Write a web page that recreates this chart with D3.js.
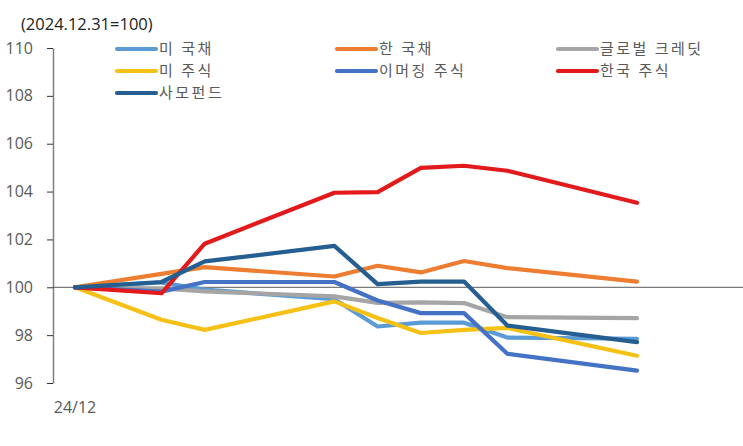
<!DOCTYPE html>
<html>
<head>
<meta charset="utf-8">
<script src="https://cdn.jsdelivr.net/npm/d3@7"></script>
<style>
  html, body { margin: 0; padding: 0; background: #fff; }
  svg { display: block; font-family: "Noto Sans CJK KR", "Noto Sans", sans-serif; }
</style>
</head>
<body>
<svg id="chart" width="743" height="446"></svg>
<script>
// ---- data ----
const weeks = [0, 2, 3, 6, 7, 8, 9, 10, 13];      // weeks since 2024-12-31
const xLabels = ["24/12"];
const yTicks = [96, 98, 100, 102, 104, 106, 108, 110];
const seriesNames = ["미 국채", "한 국채", "글로벌 크레딧", "미 주식", "이머징 주식", "한국 주식", "사모펀드"];
const usTreasury   = [100, 100.2, 99.9, 99.5, 98.36, 98.52, 98.52, 97.9, 97.85];
const krTreasury   = [100, 100.56, 100.84, 100.45, 100.9, 100.62, 101.1, 100.8, 100.24];
const globalCredit = [100, 99.95, 99.83, 99.62, 99.35, 99.37, 99.34, 98.75, 98.71];
const usEquity     = [100, 98.64, 98.22, 99.41, 98.72, 98.09, 98.22, 98.3, 97.14];
const emEquity     = [100, 99.82, 100.22, 100.22, 99.45, 98.92, 98.92, 97.22, 96.52];
const krEquity     = [100, 99.75, 101.82, 103.95, 103.98, 104.99, 105.08, 104.87, 103.53];
const privateFund  = [100, 100.22, 101.08, 101.73, 100.13, 100.24, 100.24, 98.4, 97.71];
const colors = ["#5B9BD5", "#ED7D31", "#A5A5A5", "#F5C116", "#4472C4", "#E31A1C", "#255E91"];

const allValues = [usTreasury, krTreasury, globalCredit, usEquity, emEquity, krEquity, privateFund];

// ---- layout ----
const svg = d3.select("#chart");
const x = d3.scaleLinear().domain([0, 13]).range([75, 637]);
const y = d3.scaleLinear().domain([96, 110]).range([383, 48]);
const axisX = 53;
const numFont = "'Open Sans', 'Noto Sans', sans-serif";

// y axis
const yAxis = d3.axisLeft(y).tickValues(yTicks).tickSize(6).tickPadding(14).tickSizeOuter(0);
const gy = svg.append("g").attr("transform", `translate(${axisX},0)`).call(yAxis);
gy.select(".domain").attr("stroke", "#7f7f7f").attr("stroke-width", 1.5);
gy.selectAll(".tick line").attr("stroke", "#333").attr("stroke-width", 1);
gy.selectAll(".tick text").attr("fill", "#595959").style("font-size", "16px")
  .style("font-family", numFont);

// baseline at 100
svg.append("line")
  .attr("x1", axisX).attr("x2", 743)
  .attr("y1", y(100)).attr("y2", y(100))
  .attr("stroke", "#595959").attr("stroke-width", 1);

// x label
svg.append("text").attr("x", x(0)).attr("y", 413).attr("text-anchor", "middle")
  .attr("fill", "#595959").style("font-size", "16px")
  .style("font-family", numFont)
  .text(xLabels[0]);

// unit note
svg.append("text").attr("x", 21).attr("y", 30)
  .attr("fill", "#222").style("font-size", "16.5px")
  .style("font-family", numFont)
  .text("(2024.12.31=100)");

// lines
const line = d3.line().x((d, i) => x(weeks[i])).y(d => y(d));
allValues.forEach((vals, k) => {
  svg.append("path").datum(vals)
    .attr("d", line)
    .attr("fill", "none")
    .attr("stroke", colors[k])
    .attr("stroke-width", 4.2)
    .attr("stroke-linejoin", "round")
    .attr("stroke-linecap", "round");
});

// legend
const legCols = [115, 335, 556];
const legRows = [49, 71, 93];
seriesNames.forEach((name, k) => {
  const cx = legCols[k % 3], cy = legRows[Math.floor(k / 3)];
  const g = svg.append("g");
  g.append("line").attr("x1", cx + 2).attr("x2", cx + 41).attr("y1", cy).attr("y2", cy)
    .attr("stroke", colors[k]).attr("stroke-width", 4.2).attr("stroke-linecap", "round");
  g.append("text").attr("x", cx + 44).attr("y", cy).attr("dy", "0.36em")
    .attr("fill", "#595959").style("font-size", "15px")
    .style("letter-spacing", "2.5px").text(name);
});
</script>
</body>
</html>
